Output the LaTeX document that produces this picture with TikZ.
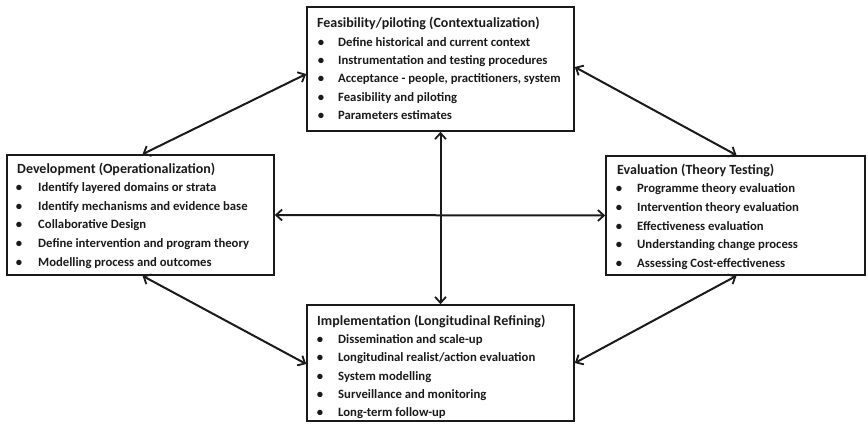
\documentclass[tikz,border=0pt]{standalone}
\usepackage{fontspec}
\setmainfont{Carlito}
\usetikzlibrary{arrows.meta}
\definecolor{ink}{HTML}{1A1A1A}
\begin{document}
\begin{tikzpicture}[x=1pt,y=-1pt,
  box/.style={draw=ink, line width=1.6pt, rectangle, inner sep=0pt},
  ttl/.style={anchor=base west, inner sep=0pt, font=\fontsize{14}{16}\selectfont\bfseries, text=ink},
  itm/.style={anchor=base west, inner sep=0pt, font=\fontsize{12.7}{15}\selectfont\bfseries, text=ink},
  bul/.style={anchor=base, inner sep=0pt, font=\fontsize{12.7}{15}\selectfont\bfseries, text=ink},
  link/.style={draw=ink, line width=2pt, {Straight Barb[length=6pt,width=11pt,line width=1.8pt]}-{Straight Barb[length=6pt,width=11pt,line width=1.8pt]}}
]
\useasboundingbox (0,0) rectangle (868,424);

% boxes
\node[box, minimum width=267pt, minimum height=124pt] (top) at (440.5,69) {};
\node[box, minimum width=267pt, minimum height=120pt] (left) at (140.5,215) {};
\node[box, minimum width=259pt, minimum height=119pt] (right) at (735.5,215.5) {};
\node[box, minimum width=267pt, minimum height=116pt] (bot) at (440.5,363) {};

% top box text
\begin{scope}[shift={(307,7)}]
\node[ttl] (tT) at (10,20) {Feasibility/piloting (Contextualization)};
\foreach \t [count=\i from 0] in {Define historical and current context,
  Instrumentation and testing procedures,
  {Acceptance - people, practitioners, system},
  Feasibility and piloting,
  Parameters estimates}{
  \node[bul] (tB\i) at (14,39.5+18.2*\i) {\textbullet};
  \node[itm] (tI\i) at (31,39.5+18.2*\i) {\t};
}
\end{scope}

% left box text
\begin{scope}[shift={(7,155)}]
\node[ttl] (lT) at (10,18) {Development (Operationalization)};
\foreach \t [count=\i from 0] in {Identify layered domains or strata,
  Identify mechanisms and evidence base,
  Collaborative Design,
  Define intervention and program theory,
  Modelling process and outcomes}{
  \node[bul] (lB\i) at (12,36.5+18.7*\i) {\textbullet};
  \node[itm] (lI\i) at (31,36.5+18.7*\i) {\t};
}
\end{scope}

% right box text
\begin{scope}[shift={(606,156)}]
\node[ttl] (rT) at (11,18) {Evaluation (Theory Testing)};
\foreach \t [count=\i from 0] in {Programme theory evaluation,
  Intervention theory evaluation,
  Effectiveness evaluation,
  Understanding change process,
  Assessing Cost-effectiveness}{
  \node[bul] (rB\i) at (13,36.5+18.8*\i) {\textbullet};
  \node[itm] (rI\i) at (31,36.5+18.8*\i) {\t};
}
\end{scope}

% bottom box text
\begin{scope}[shift={(307,305)}]
\node[ttl] (bT) at (10,20) {Implementation (Longitudinal Refining)};
\foreach \t [count=\i from 0] in {Dissemination and scale-up,
  Longitudinal realist/action evaluation,
  System modelling,
  Surveillance and monitoring,
  Long-term follow-up}{
  \node[bul] (bB\i) at (13,38.5+18.3*\i) {\textbullet};
  \node[itm] (bI\i) at (31,38.5+18.3*\i) {\t};
}
\end{scope}

% connectors
\draw[link] ([yshift=-5pt]top.west) -- ([xshift=2pt]left.north);
\draw[link] ([yshift=2pt]top.east) -- ([xshift=1pt]right.north);
\draw[link] (left.east) -- (right.west);
\draw[link] (top.south) -- (bot.north);
\draw[link] ([xshift=2pt]left.south) -- ([yshift=-1pt]bot.west);
\draw[link] ([xshift=1pt]right.south) -- (bot.east);
\end{tikzpicture}
\end{document}
